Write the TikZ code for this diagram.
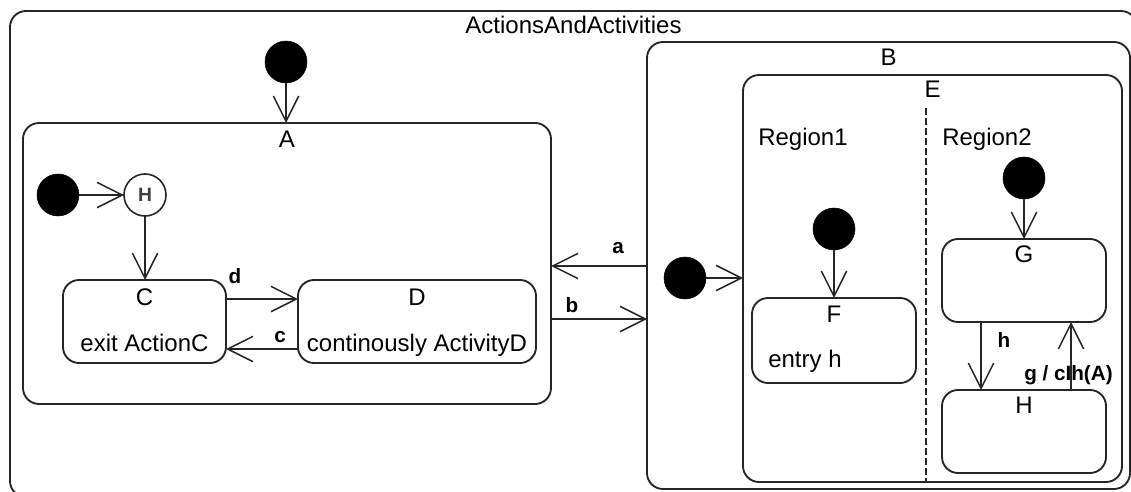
\documentclass[tikz,border=0pt]{standalone}
\usepackage{fontspec}
\setmainfont{Liberation Sans}
\usetikzlibrary{arrows.meta,fit}

\begin{document}
\begin{tikzpicture}[x=0.75pt,y=-0.75pt,
  box/.style={draw=black!85, line width=1.4pt, rounded corners=12pt,
              inner sep=0pt, outer sep=0pt},
  initial/.style={circle, fill=black, draw=black, minimum size=31.5pt,
                  inner sep=0pt, outer sep=0pt},
  hist/.style={circle, draw=black!85, line width=1.2pt, minimum size=31.5pt,
               inner sep=0pt, outer sep=0pt, text=black!75,
               font=\fontsize{14.5pt}{15pt}\selectfont\bfseries},
  stname/.style={anchor=base, inner sep=0pt, font=\fontsize{18pt}{20pt}\selectfont},
  ev/.style={anchor=base, inner sep=0pt,
             font=\fontsize{15.5pt}{17pt}\selectfont\bfseries},
  tr/.style={draw=black!85, line width=1.1pt,
             -{Straight Barb[length=19pt, width=19pt, line width=1.1pt]}},
  regionsep/.style={draw=black!85, line width=1.1pt, dash pattern=on 5pt off 2.5pt},
]
\useasboundingbox (0,0) rectangle (1131,492);

% composite states
\node[box, fit={(10,11) (1137,497)}] (top) {};
\node[box, fit={(23,123) (551,404)}] (A) {};
\node[box, fit={(647,42) (1130,489)}] (B) {};
\node[box, fit={(743,75) (1122,482)}] (E) {};

% simple states
\node[box, fit={(63,280) (226,363)}] (C) {};
\node[box, fit={(298,280) (536,363)}] (D) {};
\node[box, fit={(752,298) (916,383)}] (F) {};
\node[box, fit={(942,239) (1106,322)}] (G) {};
\node[box, fit={(942,390) (1106,473)}] (H) {};

% pseudostates
\node[initial] (i0) at (286,62) {};
\node[initial] (iA) at (58,195) {};
\node[hist] (hA) at (145,195) {H};
\node[initial] (iB) at (685,278) {};
\node[initial] (iF) at (834,229) {};
\node[initial] (iG) at (1024,178) {};

% state names
\node[stname] (ntop) at (573.5,34) {ActionsAndActivities};
\node[stname] (nB) at (888.5,65) {B};
\node[stname] (nE) at (932.5,98) {E};
\node[stname] (nA) at (287,147) {A};
\node[stname] (nC) at (144.5,305) {C};
\node[stname] (nD) at (417,305) {D};
\node[stname] (nF) at (834,322) {F};
\node[stname] (nG) at (1024,262) {G};
\node[stname] (nH) at (1024,413) {H};

% internal behaviours and region names
\node[stname] (bC) at (144.5,351) {exit ActionC};
\node[stname] (bD) at (417,351) {continously ActivityD};
\node[stname, anchor=base west] (bF) at (768,367) {entry h};
\node[stname, anchor=base west] (r1) at (758,145) {Region1};
\node[stname, anchor=base west] (r2) at (942,145) {Region2};

% region separator inside E
\coordinate (rtop) at (926,108);
\draw[regionsep] (rtop) -- (rtop |- E.south);

% helper heights / columns for the transitions
\coordinate (ya) at (0,266);
\coordinate (yb) at (0,319);
\coordinate (yd) at (0,299);
\coordinate (yc) at (0,349);
\coordinate (xh) at (981,0);
\coordinate (xg) at (1071,0);

% transitions
\draw[tr] (i0) -- (i0 |- A.north);
\draw[tr] (iA) -- (hA);
\draw[tr] (hA) -- (hA |- C.north);
\draw[tr] (C.east |- yd) -- (D.west |- yd);
\draw[tr] (D.west |- yc) -- (C.east |- yc);
\draw[tr] (B.west |- ya) -- (A.east |- ya);
\draw[tr] (A.east |- yb) -- (B.west |- yb);
\draw[tr] (iB) -- (iB -| E.west);
\draw[tr] (iF) -- (iF |- F.north);
\draw[tr] (iG) -- (iG |- G.north);
\draw[tr] (G.south -| xh) -- (H.north -| xh);
\draw[tr] (H.north -| xg) -- (G.south -| xg);

% transition labels
\node[ev] (la) at (618,253) {a};
\node[ev] (lb) at (572,312) {b};
\node[ev] (ld) at (235,283) {d};
\node[ev] (lc) at (280,342) {c};
\node[ev] (lh) at (1004,347) {h};
\node[ev, anchor=base west] (lg) at (1024,380) {g / cIh(A)};
\end{tikzpicture}
\end{document}
